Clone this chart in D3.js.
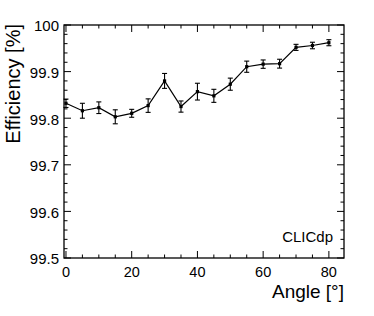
<!DOCTYPE html>
<html><head><meta charset="utf-8">
<script src="https://cdn.jsdelivr.net/npm/d3@7"></script>
<style>html,body{margin:0;padding:0;background:#fff;}svg{display:block;font-family:"Liberation Sans",Arial,sans-serif;}</style>
</head><body>
<svg id="c" width="374" height="316"></svg>
<script>
const angles = [0,5,10,15,20,25,30,35,40,45,50,55,60,65,70,75,80];
const efficiency = [99.832,99.816,99.8225,99.803,99.8105,99.827,99.880,99.825,99.857,99.848,99.873,99.9105,99.916,99.917,99.952,99.956,99.962];
const errors = [0.009,0.016,0.0125,0.015,0.0085,0.0145,0.016,0.012,0.018,0.014,0.013,0.012,0.009,0.0095,0.0065,0.007,0.0065];
const xTickLabels = [0,20,40,60,80];
const yTickLabels = [99.5,99.6,99.7,99.8,99.9,100];

const L=64,R=344,T=25,B=258;
const svg=d3.select("#c");
const x=d3.scaleLinear().domain([-0.6,84.6]).range([L,R]);
const y=d3.scaleLinear().domain([99.5,100]).range([B,T]);
const col="#000";

// frame
svg.append("rect").attr("x",L).attr("y",T).attr("width",R-L).attr("height",B-T)
  .attr("fill","none").attr("stroke",col).attr("stroke-width",1.3);

const xMinor=d3.range(0,85,5), yMinor=d3.range(0,26).map(i=>99.5+i*0.02);
const g=svg.append("g").attr("stroke",col).attr("stroke-width",1);
xMinor.forEach(v=>{
  const len = (v%20===0)?7:3.5;
  g.append("line").attr("x1",x(v)).attr("x2",x(v)).attr("y1",B).attr("y2",B-len);
  g.append("line").attr("x1",x(v)).attr("x2",x(v)).attr("y1",T).attr("y2",T+len);
});
yMinor.forEach((v,i)=>{
  const len = (i%5===0)?7:3.5;
  g.append("line").attr("y1",y(v)).attr("y2",y(v)).attr("x1",L).attr("x2",L+len);
  g.append("line").attr("y1",y(v)).attr("y2",y(v)).attr("x1",R).attr("x2",R-len);
});

// tick labels
svg.append("g").selectAll("text").data(xTickLabels).join("text")
  .attr("x",d=>x(d)).attr("y",277).attr("text-anchor","middle")
  .attr("font-size",14.5).attr("fill",col).text(d=>d);
svg.append("g").selectAll("text").data(yTickLabels).join("text")
  .attr("x",59).attr("y",d=>y(d)).attr("dy","0.42em").attr("text-anchor","end")
  .attr("font-size",15).attr("fill",col).text(d=>d===100?"100":d.toFixed(1));

// axis titles
svg.append("text").attr("x",344).attr("y",298).attr("text-anchor","end")
  .attr("font-size",19).attr("fill",col).text("Angle [°]");
svg.append("text").attr("transform","translate(20,24) rotate(-90)").attr("text-anchor","end")
  .attr("font-size",20).attr("fill",col).text("Efficiency [%]");
svg.append("text").attr("x",333).attr("y",242).attr("text-anchor","end")
  .attr("font-size",15).attr("fill",col).text("CLICdp");

// data
const pts=angles.map((a,i)=>({a,v:efficiency[i],e:errors[i]}));
svg.append("path").datum(pts)
  .attr("d",d3.line().x(d=>x(d.a)).y(d=>y(d.v)))
  .attr("fill","none").attr("stroke",col).attr("stroke-width",1.2);
const eb=svg.append("g").attr("stroke",col).attr("stroke-width",1.1);
pts.forEach(d=>{
  eb.append("line").attr("x1",x(d.a)).attr("x2",x(d.a)).attr("y1",y(d.v-d.e)).attr("y2",y(d.v+d.e));
  eb.append("line").attr("x1",x(d.a)-2.5).attr("x2",x(d.a)+2.5).attr("y1",y(d.v-d.e)).attr("y2",y(d.v-d.e));
  eb.append("line").attr("x1",x(d.a)-2.5).attr("x2",x(d.a)+2.5).attr("y1",y(d.v+d.e)).attr("y2",y(d.v+d.e));
});
svg.append("g").selectAll("rect").data(pts).join("rect")
  .attr("x",d=>x(d.a)-1.6).attr("y",d=>y(d.v)-1.6).attr("width",3.2).attr("height",3.2).attr("fill",col);
</script>
</body></html>
